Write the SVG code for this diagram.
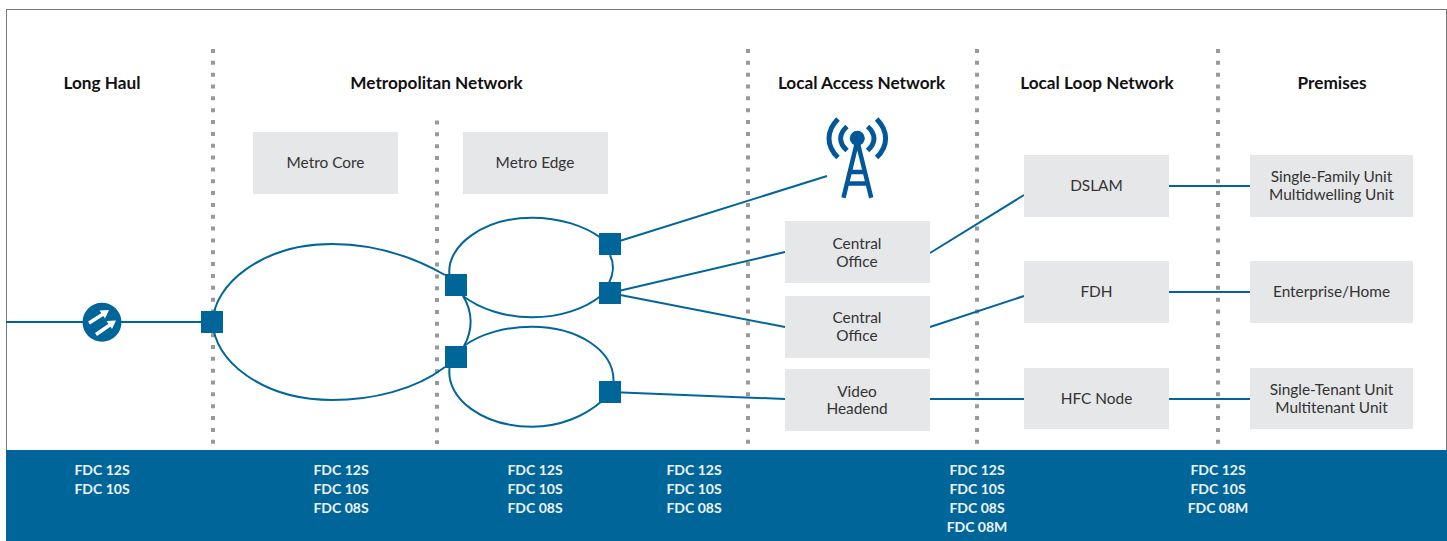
<svg xmlns="http://www.w3.org/2000/svg" width="1447" height="541" viewBox="0 0 1447 541">
<style>
text{font-family:"Lato","Open Sans","Liberation Sans",sans-serif;text-anchor:middle}
.h{font-size:17.200px;font-weight:700;fill:#111}
.t{font-size:15.400px;fill:#333}
.f{font-size:14px;font-weight:700;fill:#eef3f7}
.box{fill:#e6e7e8}
.dot{stroke:#999;stroke-width:4;stroke-dasharray:4 7.84;fill:none}
.c{stroke:#006699;stroke-width:2;fill:none}
.sq{fill:#006699}
.tw{stroke:#00589b;fill:none}
</style>
<rect x="6.500" y="9.500" width="1440" height="532" fill="#fff" stroke="#777" stroke-width="1"/>
<g id="dividers">
<path class="dot" d="M213 49V444"/>
<path class="dot" d="M437 120.500V444"/>
<path class="dot" d="M748 49V444"/>
<path class="dot" d="M977 49V444"/>
<path class="dot" d="M1218 49V444"/>
</g>
<g id="connectors">
<path class="c" d="M6 322H212"/>
<path class="c" d="M445 275C410 255 372 244 332 244C262 244 213 285 213 322C213 360 262 400 332 400C372 400 415 390 445 367"/>
<path class="c" d="M449.500 275C446 245 485 217.700 532 217.700C560 217.700 585 226 601 238"/>
<path class="c" d="M463 296C480 309 505 317.300 532 317.300C560 317.300 585 309 602 295"/>
<path class="c" d="M610 255C614 263 614 273 609 283"/>
<path class="c" d="M463 296C473 312 473 330 464 346"/>
<path class="c" d="M464 346C480 334 505 326.700 532 326.700C577 326.700 614 350 613.500 381"/>
<path class="c" d="M449.500 368C446 400 485 426.700 532 426.700C560 426.700 585 416 602 401"/>
<path class="c" d="M610 244L827 176"/>
<path class="c" d="M610 293L785 252"/>
<path class="c" d="M610 293L785 327"/>
<path class="c" d="M610 392L785 399"/>
<path class="c" d="M930 253L1024 195"/>
<path class="c" d="M930 327L1024 296"/>
<path class="c" d="M930 399H1024"/>
<path class="c" d="M1169 186H1250"/>
<path class="c" d="M1169 292H1250"/>
<path class="c" d="M1169 399H1250"/>
</g>
<g id="long-haul-label"><text class="h" x="102" y="89">Long Haul</text></g>
<g id="metro-label"><text class="h" x="436.500" y="89">Metropolitan Network</text></g>
<g id="access-label"><text class="h" x="861.500" y="89">Local Access Network</text></g>
<g id="loop-label"><text class="h" x="1097" y="89">Local Loop Network</text></g>
<g id="premises-label"><text class="h" x="1332" y="89">Premises</text></g>
<g id="metro-core"><rect class="box" x="253" y="132" width="145" height="62"/><text class="t" x="325.500" y="168">Metro Core</text></g>
<g id="metro-edge"><rect class="box" x="463" y="132" width="145" height="62"/><text class="t" x="535" y="168">Metro Edge</text></g>
<g id="co-1"><rect class="box" x="785" y="221" width="145" height="62"/><text class="t" x="857" y="249">Central</text><text class="t" x="857" y="267">Office</text></g>
<g id="co-2"><rect class="box" x="785" y="296" width="145" height="62"/><text class="t" x="857" y="323">Central</text><text class="t" x="857" y="341">Office</text></g>
<g id="video"><rect class="box" x="785" y="369" width="145" height="62"/><text class="t" x="857" y="397">Video</text><text class="t" x="857" y="414">Headend</text></g>
<g id="dslam"><rect class="box" x="1024" y="155" width="145" height="62"/><text class="t" x="1096.500" y="191">DSLAM</text></g>
<g id="fdh"><rect class="box" x="1024" y="261" width="145" height="62"/><text class="t" x="1096.500" y="297">FDH</text></g>
<g id="hfc"><rect class="box" x="1024" y="368" width="145" height="61"/><text class="t" x="1096.500" y="404">HFC Node</text></g>
<g id="family"><rect class="box" x="1250" y="155" width="163" height="62"/><text class="t" x="1331.500" y="182">Single-Family Unit</text><text class="t" x="1331.500" y="200">Multidwelling Unit</text></g>
<g id="enterprise"><rect class="box" x="1250" y="261" width="163" height="62"/><text class="t" x="1331.500" y="297">Enterprise/Home</text></g>
<g id="tenant"><rect class="box" x="1250" y="368" width="163" height="61"/><text class="t" x="1331.500" y="395">Single-Tenant Unit</text><text class="t" x="1331.500" y="413">Multitenant Unit</text></g>
<g id="sq-1"><rect class="sq" x="201" y="311" width="22" height="22"/></g>
<g id="sq-2"><rect class="sq" x="445" y="274" width="22" height="22"/></g>
<g id="sq-3"><rect class="sq" x="445" y="346" width="22" height="22"/></g>
<g id="sq-4"><rect class="sq" x="599" y="233" width="22" height="22"/></g>
<g id="sq-5"><rect class="sq" x="599" y="282" width="22" height="22"/></g>
<g id="sq-6"><rect class="sq" x="599" y="381" width="22" height="22"/></g>
<g id="router">
<circle cx="102" cy="322.300" r="19.500" fill="#006699"/>
<path d="M89 323L104 313.500M96 334.500L112 323.500" stroke="#fff" stroke-width="3.500" fill="none"/>
<path d="M109 310L99.500 310.500L105 318.500ZM116 320.500L106.500 321L112 329Z" fill="#fff"/>
</g>
<g id="tower">
<circle cx="857.300" cy="138.300" r="7.500" fill="#00589b"/>
<path class="tw" stroke-width="4.500" d="M857.300 141L843.500 197.700M857.300 141L871.200 197.700M848 172H866.500M845.500 183.500H869"/>
<path class="tw" stroke-width="5" d="M838 119C826 131 826 146 838 157.500M876.600 119C888.600 131 888.600 146 876.600 157.500M847 126.500C838.500 134 838.500 143 847 150.500M867.600 126.500C876.100 134 876.100 143 867.600 150.500"/>
</g>
<g id="band">
<rect x="6" y="450" width="1441" height="91" fill="#006699"/>
<text class="f" x="102" y="475">FDC 12S</text><text class="f" x="102" y="494">FDC 10S</text>
<text class="f" x="341" y="475">FDC 12S</text><text class="f" x="341" y="494">FDC 10S</text><text class="f" x="341" y="513">FDC 08S</text>
<text class="f" x="535" y="475">FDC 12S</text><text class="f" x="535" y="494">FDC 10S</text><text class="f" x="535" y="513">FDC 08S</text>
<text class="f" x="694" y="475">FDC 12S</text><text class="f" x="694" y="494">FDC 10S</text><text class="f" x="694" y="513">FDC 08S</text>
<text class="f" x="977" y="475">FDC 12S</text><text class="f" x="977" y="494">FDC 10S</text><text class="f" x="977" y="513">FDC 08S</text><text class="f" x="977" y="532">FDC 08M</text>
<text class="f" x="1218" y="475">FDC 12S</text><text class="f" x="1218" y="494">FDC 10S</text><text class="f" x="1218" y="513">FDC 08M</text>
</g>
</svg>
